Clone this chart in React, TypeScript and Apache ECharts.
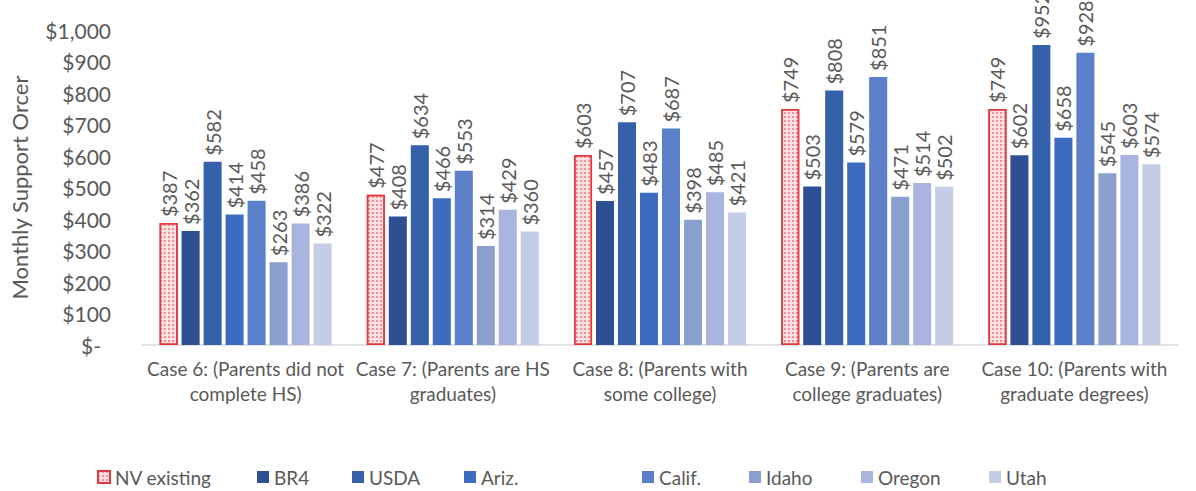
import React, { useEffect, useRef } from "react";
import * as echarts from "echarts";

const categories = [
  "Case 6: (Parents did not\ncomplete HS)",
  "Case 7: (Parents are HS\ngraduates)",
  "Case 8: (Parents with\nsome college)",
  "Case 9: (Parents are\ncollege graduates)",
  "Case 10: (Parents with\ngraduate degrees)",
];

const seriesNames = ["NV existing", "BR4", "USDA", "Ariz.", "Calif.", "Idaho", "Oregon", "Utah"];

const nvExisting = [387, 477, 603, 749, 749];
const br4 = [362, 408, 457, 503, 602];
const usda = [582, 634, 707, 808, 952];
const ariz = [414, 466, 483, 579, 658];
const calif = [458, 553, 687, 851, 928];
const idaho = [263, 314, 398, 471, 545];
const oregon = [386, 429, 485, 514, 603];
const utah = [322, 360, 421, 502, 574];

const seriesValues = [nvExisting, br4, usda, ariz, calif, idaho, oregon, utah];
const blues = ["#2e4f92", "#3560aa", "#3d6bbf", "#5c7fc9", "#8b9fcf", "#a9b5de", "#c4cce6"];

const yTicks = [0, 100, 200, 300, 400, 500, 600, 700, 800, 900, 1000];

// left edge of each legend entry along the bottom row
const legendLefts = [95, 255, 350, 462, 640, 747, 859, 987];

const FONT = "Lato";
const TEXT = "#595959";

export default function App() {
  const ref = useRef<HTMLDivElement>(null);

  useEffect(() => {
    if (!ref.current) return;
    const chart = echarts.init(ref.current, undefined, { renderer: "svg" });

    const series = seriesNames.map((name, i) => {
      const isNv = i === 0;
      return {
        name,
        type: "bar",
        data: seriesValues[i],
        barGap: "22%",
        barCategoryGap: "17%",
        itemStyle: isNv
          ? {
              color: "#fbe1e1",
              borderColor: "#e2373f",
              borderWidth: 1.5,
              decal: {
                symbol: "rect",
                symbolSize: 0.75,
                color: "#e8525a",
                dashArrayX: [[2, 1.5]],
                dashArrayY: [2, 1.5],
                rotation: 0,
              },
            }
          : { color: blues[i - 1] },
        label: {
          show: true,
          position: "top",
          rotate: 90,
          align: "left",
          verticalAlign: "middle",
          distance: 6,
          color: TEXT,
          fontFamily: FONT,
          fontSize: 20,
          formatter: (p: any) => "$" + p.value,
        },
      };
    });

    const legends = seriesNames.map((name, i) => ({
      data: [name],
      left: legendLefts[i],
      top: 464,
      itemWidth: 12,
      itemHeight: 12,
      itemGap: 4,
      padding: 2,
      icon: "rect",
      textStyle: { color: TEXT, fontFamily: FONT, fontSize: 19, lineHeight: 22 },
    }));

    chart.setOption({
      animation: false,
      textStyle: { fontFamily: FONT },
      grid: { left: 141, right: 18, top: 30, bottom: 146, containLabel: false },
      legend: legends,
      xAxis: {
        type: "category",
        data: categories,
        axisLine: { lineStyle: { color: "#d9d9d9", width: 1.5 } },
        axisTick: { show: false },
        axisLabel: {
          interval: 0,
          color: TEXT,
          fontFamily: FONT,
          fontSize: 19,
          lineHeight: 25,
          margin: 11,
        },
      },
      yAxis: {
        type: "value",
        min: yTicks[0],
        max: yTicks[yTicks.length - 1],
        interval: 100,
        name: "Monthly Support Orcer",
        nameLocation: "middle",
        nameRotate: 90,
        nameGap: 112,
        nameTextStyle: { color: TEXT, fontFamily: FONT, fontSize: 22 },
        splitLine: { show: false },
        axisLine: { show: false },
        axisTick: { show: false },
        axisLabel: {
          color: TEXT,
          fontFamily: FONT,
          fontSize: 21,
          margin: 31,
          formatter: (v: number) =>
            v === 0 ? "{z|$-}" : "$" + v.toLocaleString("en-US"),
          rich: {
            z: { color: TEXT, fontFamily: FONT, fontSize: 21, padding: [0, 10, 0, 0] },
          },
        },
      },
      series,
    });

    return () => chart.dispose();
  }, []);

  return (
    <div
      ref={ref}
      style={{ position: "fixed", left: 0, top: 0, width: 1196, height: 491, background: "#fff" }}
    />
  );
}
